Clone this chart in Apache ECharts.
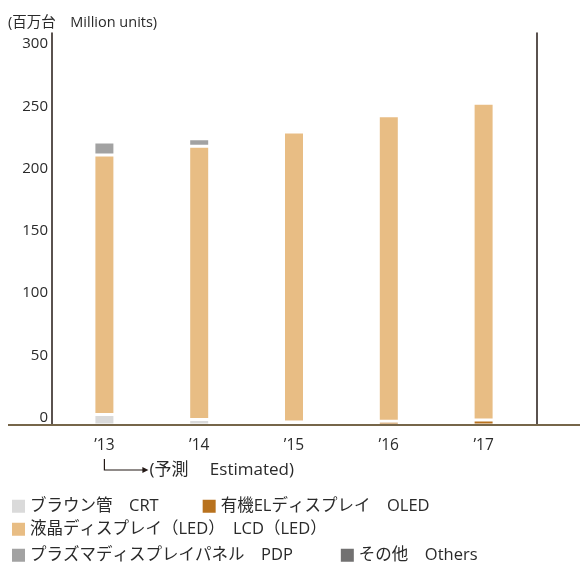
<!DOCTYPE html>
<html>
<head>
<meta charset="utf-8">
<script src="https://cdn.jsdelivr.net/npm/echarts@6/dist/echarts.min.js"></script>
<style>
html,body{margin:0;padding:0;background:#fff;}
#c{width:580px;height:563px;}
</style>
</head>
<body>
<div id="c"></div>
<script>
// ---- data ----
const categories = ["’13", "’14", "’15", "’16", "’17"];
const seriesNames = ["ブラウン管　CRT", "有機ELディスプレイ　OLED", "液晶ディスプレイ（LED）　LCD（LED）", "プラズマディスプレイパネル　PDP", "その他　Others"];
const crt    = [8.5, 4.5, 0, 0, 0];
const oled   = [0, 0, 2.5, 3, 4];
const lcd    = [208.5, 219.5, 233, 245.5, 254.5];
const pdp    = [10.5, 6, 2, 1.5, 1.2];
const others = [0, 0, 0, 0, 0];
const yTicks = [0, 50, 100, 150, 200, 250, 300];
const unitLabel = "(百万台　Million units)";
const estLabel = "(予測　 Estimated)";

// ---- styles ----
const colors = ["#dadada", "#b8721e", "#e8bd84", "#a2a2a2", "#727171"];
const FONT = "'Open Sans', 'Noto Sans CJK JP', sans-serif";
const TXT = "#2a2a2a";

const chart = echarts.init(document.getElementById('c'), null, {renderer: 'canvas'});
const values = [crt, oled, lcd, pdp, others];

const series = seriesNames.map((n, i) => ({
  name: n,
  type: 'bar',
  stack: 'total',
  barWidth: 21,
  yAxisIndex: 0,
  data: values[i],
  itemStyle: {color: colors[i], borderColor: '#ffffff', borderWidth: 1.5},
  emphasis: {disabled: true}
}));

const legendCommon = {
  left: 7, icon: 'rect', itemWidth: 13, itemHeight: 13,
  orient: 'horizontal', selectedMode: false,
  itemStyle: {borderWidth: 0},
  textStyle: {fontFamily: FONT, fontSize: 16.5, color: TXT, lineHeight: 16}
};

const yMax = 315;
const yCommon = {
  type: 'value', min: 0, max: yMax, interval: 50,
  splitLine: {show: false}, axisTick: {show: false}
};

chart.setOption({
  animation: false,
  color: colors,
  title: {
    text: unitLabel, left: 3, top: 10,
    textStyle: {fontFamily: FONT, fontSize: 14.5, fontWeight: 'normal', color: TXT, lineHeight: 16}
  },
  legend: [
    Object.assign({}, legendCommon, {top: 493, itemGap: 44, data: [seriesNames[0], seriesNames[1]]}),
    Object.assign({}, legendCommon, {top: 516, itemGap: 40, data: [seriesNames[2]]}),
    Object.assign({}, legendCommon, {top: 542, itemGap: 48, data: [seriesNames[3], seriesNames[4]]})
  ],
  grid: {left: 57, right: 49, top: 33, bottom: 138, containLabel: false},
  xAxis: {
    type: 'category', data: categories,
    axisLine: {show: false}, axisTick: {show: false},
    axisLabel: {fontFamily: FONT, fontSize: 15.5, color: TXT, margin: 13}
  },
  yAxis: [
    Object.assign({}, yCommon, {
      position: 'left', offset: 5,
      axisLine: {show: true, lineStyle: {color: '#231815', width: 1.5}},
      axisLabel: {
        fontFamily: FONT, fontSize: 15, color: TXT, margin: 4,
        verticalAlign: 'bottom', lineHeight: 15,
        formatter: v => yTicks.indexOf(v) >= 0 ? String(v) : ''
      }
    }),
    Object.assign({}, yCommon, {
      position: 'right', offset: 5.5,
      axisLine: {show: true, lineStyle: {color: '#231815', width: 1.5}},
      axisLabel: {show: false}
    })
  ],
  series: series
});

// annotations: baseline and "estimated" arrow placed via axis scales
const p0 = chart.convertToPixel({xAxisIndex: 0, yAxisIndex: 0}, [categories[0], 0]);
const x13 = p0[0], y0 = p0[1];
const arrowY = y0 + 45;
chart.setOption({
  graphic: [
    {type: 'line', shape: {x1: 8, y1: y0, x2: 580, y2: y0},
     style: {stroke: '#76664a', lineWidth: 2}, z: 10},
    {type: 'polyline', shape: {points: [[x13, y0 + 34], [x13, arrowY], [x13 + 40, arrowY]]},
     style: {stroke: '#231815', lineWidth: 1.2, fill: null}, z: 10},
    {type: 'polygon', shape: {points: [[x13 + 38, arrowY - 3], [x13 + 44, arrowY], [x13 + 38, arrowY + 3]]},
     style: {fill: '#231815'}, z: 10},
    {type: 'text', x: x13 + 45, y: arrowY,
     style: {text: estLabel, font: "17px " + FONT, fill: TXT, verticalAlign: 'middle', align: 'left'}, z: 10}
  ]
});
</script>
</body>
</html>
